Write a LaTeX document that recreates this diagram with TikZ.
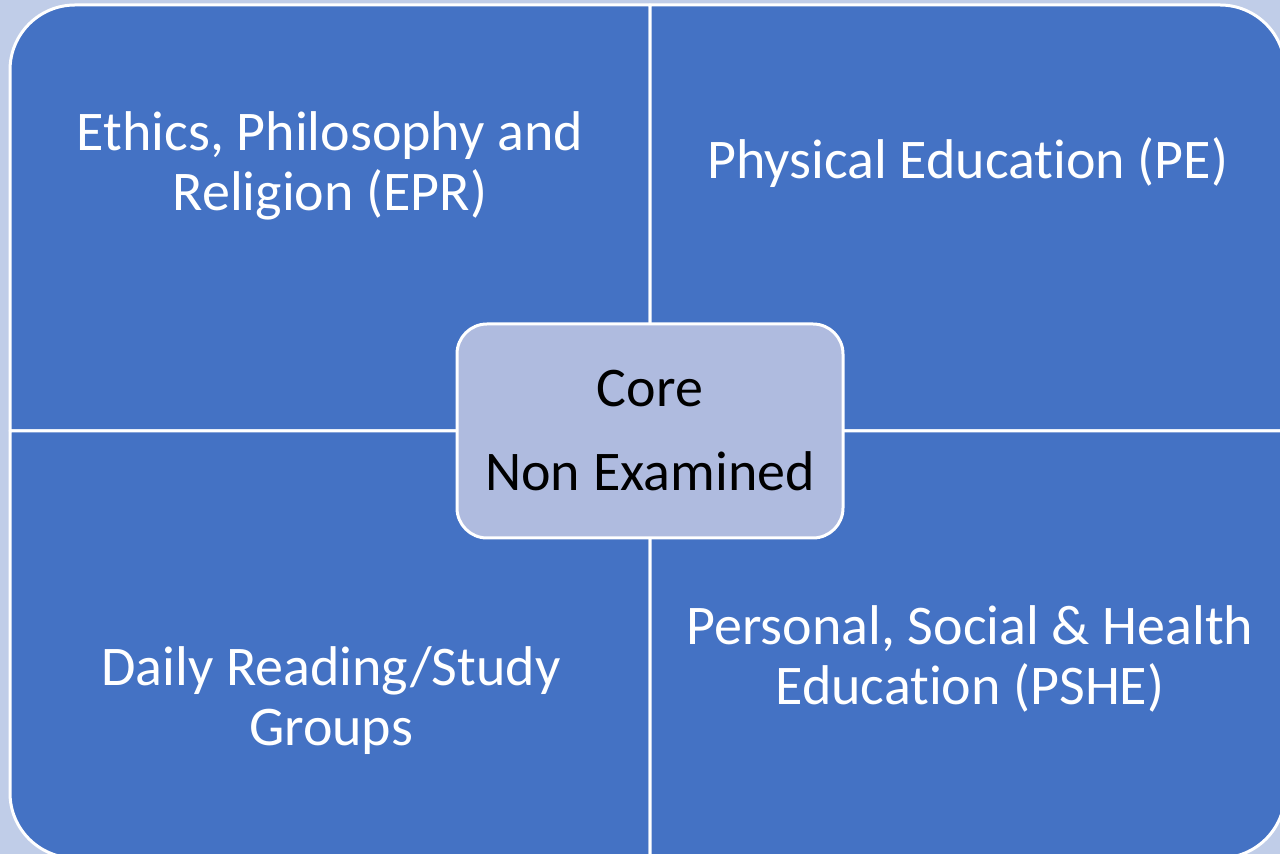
\documentclass[tikz,border=0pt]{standalone}
\usepackage{fontspec}
\setmainfont[Ligatures=NoCommon]{Carlito}
\newcommand\nolig{\kern0pt{}}
\definecolor{bgblue}{RGB}{192,205,232}
\definecolor{quadblue}{RGB}{68,114,196}
\definecolor{coreblue}{RGB}{175,187,223}
\begin{document}
\begin{tikzpicture}[x=1pt,y=1pt,
  quad/.style={fill=quadblue,draw=white,line width=3pt,line join=round},
  quadtext/.style={text=white,font=\fontsize{56}{60}\selectfont,align=center,inner sep=0pt},
  corebox/.style={fill=coreblue,draw=white,line width=3pt,rounded corners=30pt,
    minimum width=386pt,minimum height=214pt,inner sep=0pt,
    font=\fontsize{56}{60}\selectfont,align=center,text=black}]
\useasboundingbox (0,0) rectangle (1280,854);
\fill[bgblue] (0,0) rectangle (1280,854);
\clip (0,0) rectangle (1280,854);
% quadrants
\path[quad] (10,423) -- (10,784) arc[start angle=180,end angle=90,radius=65] -- (650,849) -- (650,423) -- cycle;
\path[quad] (650,423) -- (650,849) -- (1220,849) arc[start angle=90,end angle=0,radius=65] -- (1285,423) -- cycle;
\path[quad] (10,423) -- (10,61) arc[start angle=180,end angle=270,radius=65] -- (650,-4) -- (650,423) -- cycle;
\path[quad] (650,423) -- (650,-4) -- (1220,-4) arc[start angle=270,end angle=360,radius=65] -- (1285,423) -- cycle;
% texts
\node[quadtext] (epr) at (330,688) {Ethics, Philosophy and\\Religion (EPR)};
\node[quadtext] (pe) at (968,691) {Physical Educat\nolig ion (PE)};
\node[quadtext] (drs) at (331,153) {Daily Reading/Study\\Groups};
\node[quadtext] (pshe) at (970,195) {Personal, Social \& Health\\Educat\nolig ion (PSHE)};
% center
\node[corebox] (core) at (650,423) {Core\\[24pt]Non Examined};
\end{tikzpicture}
\end{document}
